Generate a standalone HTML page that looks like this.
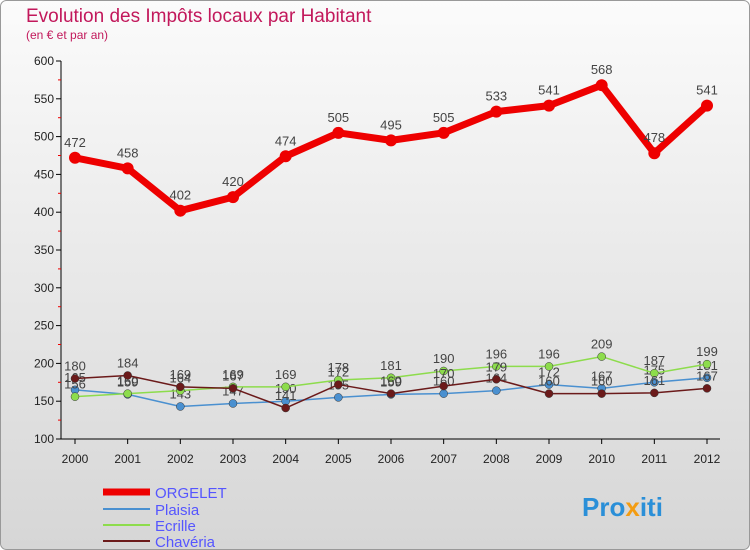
<!DOCTYPE html>
<html><head><meta charset="utf-8"><style>
body{margin:0;width:750px;height:550px;overflow:hidden;font-family:"Liberation Sans",sans-serif}
#c{position:absolute;left:0;top:0}
</style></head><body>
<svg id="c" width="750" height="550" font-family="Liberation Sans, sans-serif">
<defs><linearGradient id="bg" x1="0" y1="0" x2="0" y2="1"><stop offset="0" stop-color="#fbfbfb"/><stop offset="1" stop-color="#d6d6d6"/></linearGradient></defs>
<rect x="0.5" y="0.5" width="749" height="549" rx="6" fill="url(#bg)" stroke="#999"/>
<text x="26" y="22" font-size="19" fill="#c2185b">Evolution des Impôts locaux par Habitant</text>
<text x="26" y="39" font-size="12" fill="#c2185b">(en € et par an)</text>
<g id="axes"></g><g id="series"></g>
<g>
<line x1="103" y1="492" x2="150" y2="492" stroke="#e00" stroke-width="7"/><text x="155" y="498" font-size="15" fill="#55f">ORGELET</text>
<line x1="103" y1="509" x2="150" y2="509" stroke="#4a90d0" stroke-width="2"/><text x="155" y="515" font-size="15" fill="#55f">Plaisia</text>
<line x1="103" y1="525" x2="150" y2="525" stroke="#8ddc4c" stroke-width="2"/><text x="155" y="531" font-size="15" fill="#55f">Ecrille</text>
<line x1="103" y1="541" x2="150" y2="541" stroke="#6b1a1a" stroke-width="2"/><text x="155" y="547" font-size="15" fill="#55f">Chavéria</text>
</g>
<text x="582" y="516" font-size="26" font-weight="bold" fill="#2a8fd8">Pro<tspan fill="#f39c12">x</tspan>iti</text>
</svg>
<script>
const years=["2000","2001","2002","2003","2004","2005","2006","2007","2008","2009","2010","2011","2012"];
const yTicks=[100,150,200,250,300,350,400,450,500,550,600];
const orgelet=[472,458,402,420,474,505,495,505,533,541,568,478,541];
const plaisia=[165,159,143,147,150,155,159,160,164,172,167,175,181];
const ecrille=[156,160,164,169,169,178,181,190,196,196,209,187,199];
const chaveria=[180,184,169,167,141,172,160,170,179,160,160,161,167];
const NS="http://www.w3.org/2000/svg";
function X(i){return 75+i*(707-75)/(years.length-1);}
function Y(v){return 439-(v-100)*(439-61)/500;}
function mk(t,a,p){const e=document.createElementNS(NS,t);for(const k in a)e.setAttribute(k,a[k]);p.appendChild(e);return e;}
const ax=document.getElementById('axes');
const yl=mk('line',{x1:61,y1:61,x2:61,y2:439,stroke:'#000'},ax);

const xl=mk('line',{x1:61,y1:439,x2:720,y2:439,stroke:'#000'},ax);

yTicks.forEach((v,i)=>{mk('line',{x1:56,y1:Y(v),x2:61,y2:Y(v),stroke:'#000'},ax);
 if(i<yTicks.length-1)mk('line',{x1:58,y1:Y(v+25),x2:61,y2:Y(v+25),stroke:'#e00'},ax);
 const t=mk('text',{x:54,y:Y(v)+4,'font-size':12,'text-anchor':'end',fill:'#222'},ax);t.textContent=v;
 });
years.forEach((y,i)=>{mk('line',{x1:X(i),y1:439,x2:X(i),y2:444,stroke:'#000'},ax);
 const t=mk('text',{x:X(i),y:463,'font-size':12,'text-anchor':'middle',fill:'#222'},ax);t.textContent=y;
 });
const sg=document.getElementById('series');
function draw(data,name,color,w,r,fs){const g=mk('g',{},sg);
 
 mk('polyline',{points:data.map((v,i)=>X(i)+','+Y(v)).join(' '),fill:'none',stroke:color,'stroke-width':w,'stroke-linejoin':'round'},g);
 data.forEach((v,i)=>{const c=mk('circle',{cx:X(i),cy:Y(v),r:r,fill:color,stroke:w>3?'none':'#333','stroke-width':0.5},g);
  
  const t=mk('text',{x:X(i),y:Y(v)-(w>3?11:8),'font-size':fs,'text-anchor':'middle',fill:'#444'},g);t.textContent=v;
  });}
draw(plaisia,'plaisia','#4a90d0',1.5,4,13);
draw(ecrille,'ecrille','#8ddc4c',1.5,4,13);
draw(chaveria,'chaveria','#6b1a1a',1.5,4,13);
draw(orgelet,'orgelet','#e00',7,6,13);
</script>
</body></html>
